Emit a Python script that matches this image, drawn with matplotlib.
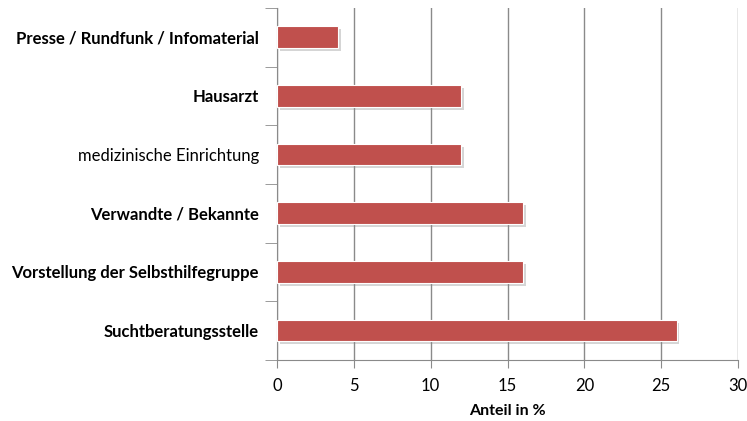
import matplotlib.pyplot as plt
import matplotlib.patheffects as pe
import numpy as np

# data (bottom to top)
categories = ["Suchtberatungsstelle", "Vorstellung der Selbsthilfegruppe",
              "Verwandte / Bekannte", "medizinische Einrichtung",
              "Hausarzt", "Presse / Rundfunk / Infomaterial"]
values = [26, 16, 16, 12, 12, 4]
label_bold = [True, True, True, False, True, True]
x_ticks = [0, 5, 10, 15, 20, 25, 30]

plt.rcParams['font.family'] = ['Lato', 'DejaVu Sans']
grey = '#8a8a8a'

fig = plt.figure(figsize=(7.47, 4.21), dpi=100)
ax = fig.add_axes([0.3708, 0.145, 0.988 - 0.3708, 0.836])

pos = np.arange(len(categories))
bars = ax.barh(pos, values, height=0.37, color='#C0504D',
               edgecolor='white', linewidth=0.8, zorder=3)
for b in bars:
    b.set_path_effects([pe.SimplePatchShadow(offset=(2, -2), alpha=0.35, shadow_rgbFace='#888888'),
                        pe.Normal()])

ax.set_xlim(0, 30)
ax.set_ylim(-0.5, len(categories) - 0.5)
ax.set_xticks(x_ticks)
ax.grid(True, axis='x', color=grey, linewidth=1.0, zorder=0)

# category labels at bar centres, tick marks at the band borders
ax.set_yticks(pos)
ax.set_yticklabels(categories)
for lbl, bold in zip(ax.get_yticklabels(), label_bold):
    lbl.set_fontweight('bold' if bold else 'normal')
ax.set_yticks(np.arange(-0.5, len(categories), 1.0), minor=True)
ax.tick_params(axis='y', which='major', length=0, pad=13, labelsize=12, colors='black')
ax.tick_params(axis='y', which='minor', length=9, color=grey, direction='out')
ax.tick_params(axis='x', length=6, color=grey, labelsize=12, pad=7)

for s in ['top', 'right']:
    ax.spines[s].set_visible(False)
for s in ['left', 'bottom']:
    ax.spines[s].set_color(grey)

ax.set_xlabel('Anteil in %', fontsize=11.5, fontweight='bold', labelpad=7)

plt.savefig('out.png', dpi=100)
